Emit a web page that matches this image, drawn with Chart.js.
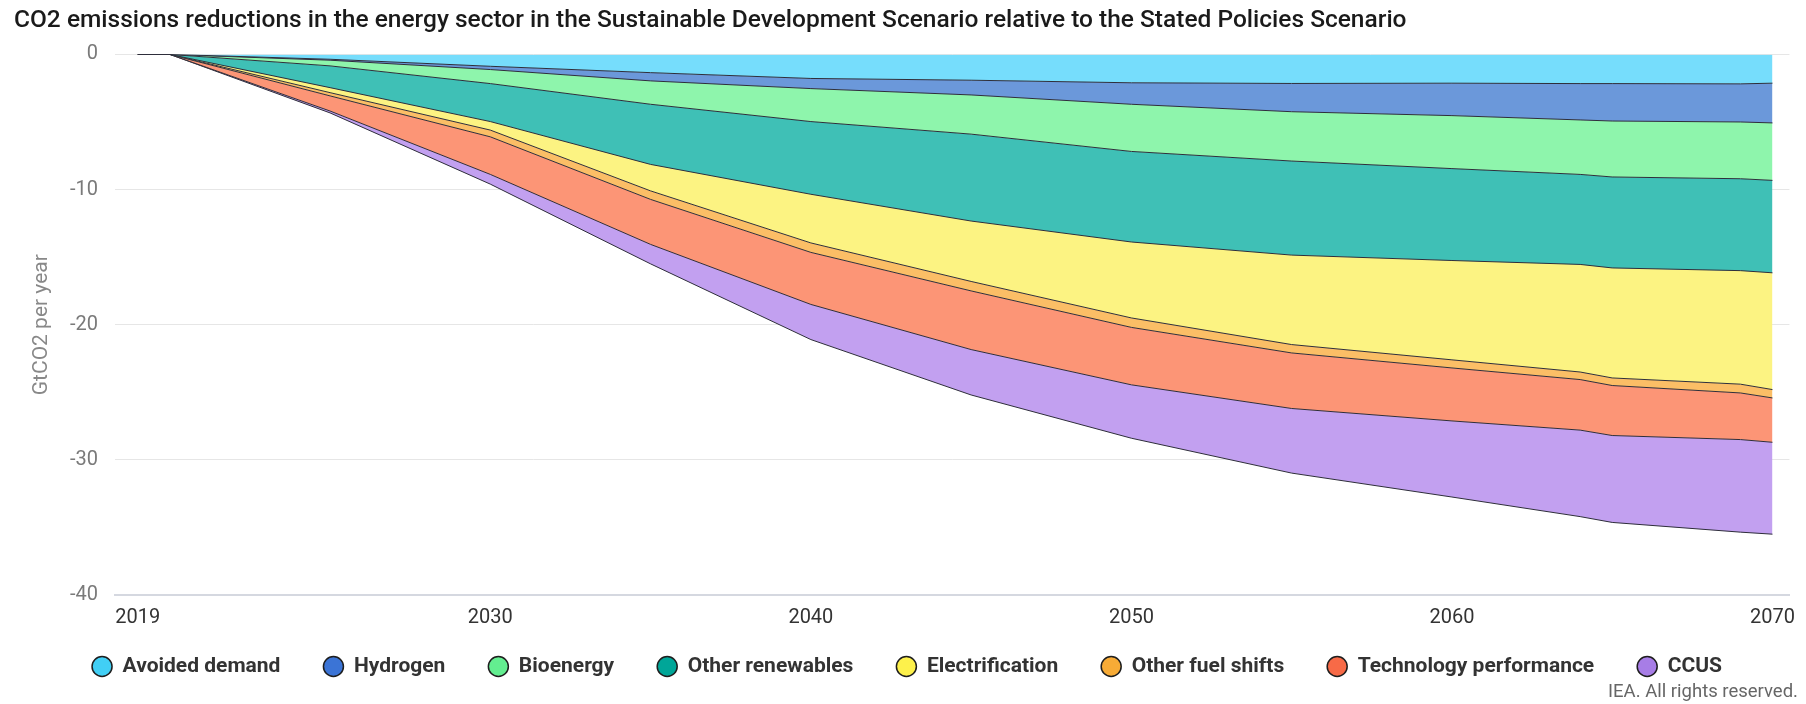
<!DOCTYPE html>
<html>
<head>
<meta charset="utf-8">
<script src="https://cdn.jsdelivr.net/npm/chart.js@4.4.1/dist/chart.umd.min.js"></script>
<style>
  html, body { margin: 0; padding: 0; background: #ffffff; }
  #wrap { position: relative; width: 1806px; height: 704px; overflow: hidden; }
  #credit { position: absolute; right: 8px; top: 680px; font: 18.5px Roboto, sans-serif; line-height: 22px; color: #666666; }
</style>
</head>
<body>
<div id="wrap">
  <canvas id="c" width="1806" height="704"></canvas>
  <div id="credit">IEA. All rights reserved.</div>
</div>
<script>
// ---- Data (GtCO2 per year, contribution of each measure; negative = reduction) ----
const years = [2019, 2020, 2025, 2030, 2035, 2040, 2045, 2050, 2055, 2060, 2064, 2065, 2069, 2070];
const avoidedDemand   = [0, 0, -0.36, -0.88, -1.35, -1.78, -1.91, -2.10, -2.15, -2.13, -2.16, -2.16, -2.18, -2.13];
const hydrogen        = [0, 0, -0.07, -0.24, -0.61, -0.75, -1.09, -1.59, -2.09, -2.40, -2.69, -2.77, -2.82, -2.94];
const bioenergy       = [0, 0, -0.42, -1.04, -1.73, -2.44, -2.90, -3.49, -3.65, -3.92, -4.03, -4.14, -4.20, -4.25];
const otherRenewables = [0, 0, -1.61, -2.81, -4.45, -5.38, -6.43, -6.70, -6.96, -6.80, -6.66, -6.73, -6.80, -6.84];
const electrification = [0, 0, -0.37, -0.63, -1.96, -3.60, -4.47, -5.62, -6.62, -7.35, -7.96, -8.14, -8.40, -8.64];
const otherFuelShifts = [0, 0, -0.24, -0.50, -0.63, -0.70, -0.70, -0.70, -0.62, -0.60, -0.56, -0.56, -0.65, -0.62];
const techPerformance = [0, 0, -1.12, -2.78, -3.33, -3.85, -4.34, -4.25, -4.11, -3.92, -3.74, -3.70, -3.45, -3.28];
const ccus            = [0, 0, -0.14, -0.72, -1.44, -2.60, -3.36, -3.95, -4.78, -5.63, -6.40, -6.43, -6.85, -6.80];

const seriesNames = ["Avoided demand", "Hydrogen", "Bioenergy", "Other renewables", "Electrification", "Other fuel shifts", "Technology performance", "CCUS"];
const seriesValues = [avoidedDemand, hydrogen, bioenergy, otherRenewables, electrification, otherFuelShifts, techPerformance, ccus];
const areaColors   = ["#76DDFC", "#6B98DA", "#8EF5AC", "#3FC0B6", "#FCF382", "#FBBE66", "#FC9576", "#C2A0F0"];
const legendColors = ["#41CFF5", "#3B74D6", "#63EE90", "#00A698", "#FDF14B", "#F7AB36", "#F76A47", "#A77DE6"];

const xTickYears = [2019, 2030, 2040, 2050, 2060, 2070];
const yTickValues = [0, -10, -20, -30, -40];

const titleText = "CO2 emissions reductions in the energy sector in the Sustainable Development Scenario relative to the Stated Policies Scenario";
const yAxisTitle = "GtCO2 per year";

Chart.defaults.font.family = "Roboto, 'Noto Sans', sans-serif";

const datasets = seriesNames.map((name, i) => ({
  label: name,
  data: years.map((yr, j) => ({ x: yr, y: seriesValues[i][j] })),
  backgroundColor: areaColors[i],
  borderColor: "#2e2e3a",
  borderWidth: 1,
  pointRadius: 0,
  pointHoverRadius: 0,
  tension: 0,
  fill: i === 0 ? "origin" : "-1"
}));

// nudges the legend row up after layout (keeps wide item spacing)
const legendShift = {
  id: "legendShift",
  afterLayout(chart) {
    const lg = chart.legend;
    if (lg) { lg.top -= 28; lg.bottom -= 28; }
  }
};

new Chart(document.getElementById("c"), {
  type: "line",
  data: { datasets },
  plugins: [legendShift],
  options: {
    responsive: false,
    animation: false,
    events: [],
    layout: { padding: { left: 14, right: 6, top: 0, bottom: -11 } },
    scales: {
      x: {
        type: "linear",
        min: 2018.29,
        max: 2070.53,
        grid: { display: false, drawTicks: false },
        border: { display: true, color: "#d5d8e0", width: 2 },
        afterBuildTicks: (scale) => { scale.ticks = xTickYears.map(v => ({ value: v })); },
        ticks: {
          autoSkip: false,
          maxRotation: 0,
          padding: 11,
          color: "#333333",
          font: { size: 20, lineHeight: 1.2 },
          callback: (v) => String(v)
        }
      },
      y: {
        stacked: true,
        min: -40,
        max: 0,
        afterBuildTicks: (scale) => { scale.ticks = yTickValues.map(v => ({ value: v })); },
        afterFit: (scale) => { scale.width = 101; },
        grid: { color: "#e6e6e6", lineWidth: 1, drawTicks: false },
        border: { display: false },
        ticks: { padding: 17, color: "#7a7a7a", font: { size: 20 } },
        title: {
          display: true,
          text: yAxisTitle,
          color: "#888888",
          font: { size: 21 },
          padding: { top: 15, bottom: 0 }
        }
      }
    },
    plugins: {
      tooltip: { enabled: false },
      title: {
        display: true,
        text: titleText,
        align: "start",
        color: "#1a1a1a",
        font: { size: 24.5, weight: "500" },
        padding: { top: 6, bottom: 19 }
      },
      legend: {
        position: "bottom",
        align: "center",
        labels: {
          usePointStyle: true,
          pointStyle: "circle",
          pointStyleWidth: 20,
          boxHeight: 14,
          padding: 43,
          color: "#333333",
          font: { size: 21, weight: "bold" },
          generateLabels: (chart) => chart.data.datasets.map((ds, i) => ({
            text: ds.label,
            fillStyle: legendColors[i],
            strokeStyle: "#1e1e1e",
            lineWidth: 1.5,
            pointStyle: "circle",
            hidden: false,
            datasetIndex: i,
            fontColor: "#333333"
          }))
        }
      }
    }
  }
});
</script>
</body>
</html>
